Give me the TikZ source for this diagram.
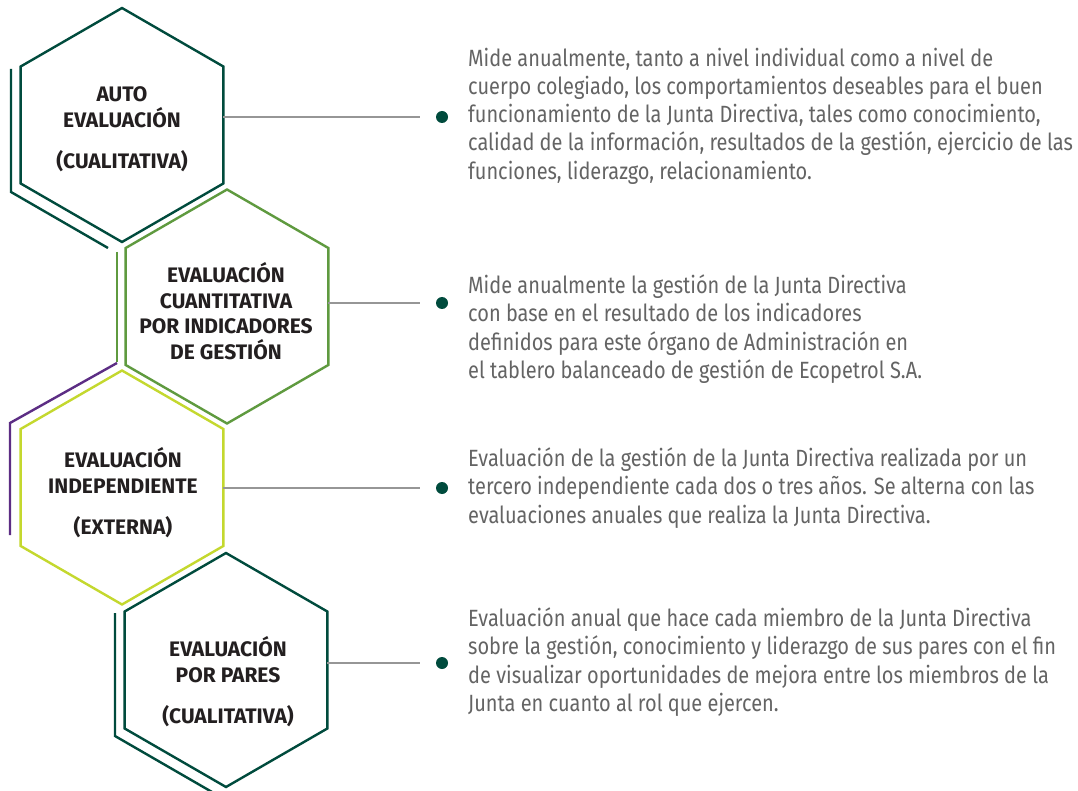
\documentclass[tikz,border=0pt]{standalone}
\usepackage{fontspec}
\setmainfont{Fira Sans}[FakeStretch=0.85]
\newfontfamily\hexfont{Fira Sans}
\usetikzlibrary{shapes.geometric}
\definecolor{dkgreen}{RGB}{0,75,61}
\definecolor{mdgreen}{RGB}{95,154,63}
\definecolor{limeg}{RGB}{196,216,46}
\definecolor{purp}{RGB}{92,45,132}
\definecolor{conngray}{RGB}{150,150,150}
\definecolor{txtgray}{RGB}{100,100,100}
\definecolor{lblcol}{RGB}{35,31,32}
\begin{document}
\begin{tikzpicture}[x=1pt,y=-1pt,
  hexa/.style={regular polygon, regular polygon sides=6, shape border rotate=30,
    minimum size=234pt, inner sep=0pt, outer sep=0pt, line width=2.4pt, draw=#1},
  accent/.style={line width=2.4pt, draw=#1},
  hexlbl/.style={inner sep=0pt, align=center, text=lblcol,
    font=\hexfont\bfseries\fontsize{21}{25.5}\selectfont},
  desc/.style={anchor=north west, inner sep=0pt, align=left, text=txtgray,
    font=\fontsize{23.5}{28.3}\selectfont},
  dotn/.style={circle, fill=dkgreen, minimum size=12pt, inner sep=0pt},
  conn/.style={draw=conngray, line width=1.2pt, shorten >=16pt}]
\fill[white] (0,0) rectangle (1078,791);
\useasboundingbox (0,0) rectangle (1078,791);

% accent lines
\draw[accent=dkgreen] (11,69) -- (11,192) -- (108,248);
\draw[accent=mdgreen] (117,252) -- (117,362);
\draw[accent=purp] (117,363) -- (10,423) -- (10,535);
\draw[accent=dkgreen] (115,613) -- (115,736) -- (212,792);

% hexagons
\node[hexa=dkgreen] (h1) at (122,125) {};
\node[hexa=mdgreen] (h2) at (227,306.5) {};
\node[hexa=limeg] (h3) at (122,487.5) {};
\node[hexa=dkgreen] (h4) at (226,670) {};

% hexagon labels
\node[hexlbl] (l1) at (122,129.5) {AUTO\\EVALUACIÓN\\[16pt](CUALITATIVA)};
\node[hexlbl] (l2) at (226,311) {EVALUACIÓN\\CUANTITATIVA\\POR INDICADORES\\DE GESTIÓN};
\node[hexlbl] (l3) at (123,493) {EVALUACIÓN\\INDEPENDIENTE\\[16pt](EXTERNA)};
\node[hexlbl] (l4) at (228,682) {EVALUACIÓN\\POR PARES\\[16pt](CUALITATIVA)};

% dots
\node[dotn] (d1) at (442,117) {};
\node[dotn] (d2) at (442,303) {};
\node[dotn] (d3) at (442,488) {};
\node[dotn] (d4) at (442,663) {};

% connectors
\draw[conn] (h1.east |- d1) -- (d1);
\draw[conn] (h2.east |- d2) -- (d2);
\draw[conn] (h3.east |- d3) -- (d3);
\draw[conn] (h4.east |- d4) -- (d4);

% descriptions
\node[desc] (t1) at (468,47.5) {Mide anualmente, tanto a nivel individual como a nivel de\\cuerpo colegiado, los comportamientos deseables para el buen\\funcionamiento de la Junta Directiva, tales como conocimiento,\\calidad de la información, resultados de la gestión, ejercicio de las\\funciones, liderazgo, relacionamiento.};
\node[desc] (t2) at (468,274.5) {Mide anualmente la gestión de la Junta Directiva\\con base en el resultado de los indicadores\\definidos para este órgano de Administración en\\el tablero balanceado de gestión de Ecopetrol S.A.};
\node[desc] (t3) at (468,447.5) {Evaluación de la gestión de la Junta Directiva realizada por un\\tercero independiente cada dos o tres años. Se alterna con las\\evaluaciones anuales que realiza la Junta Directiva.};
\node[desc] (t4) at (468,607.5) {Evaluación anual que hace cada miembro de la Junta Directiva\\sobre la gestión, conocimiento y liderazgo de sus pares con el fin\\de visualizar oportunidades de mejora entre los miembros de la\\Junta en cuanto al rol que ejercen.};
\end{tikzpicture}
\end{document}
